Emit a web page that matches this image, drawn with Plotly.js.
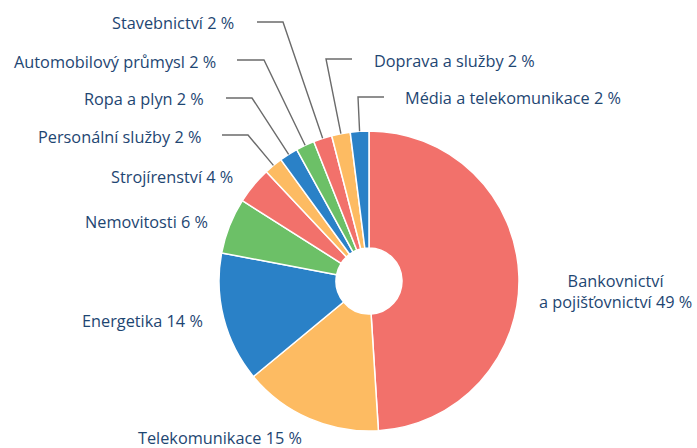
<!DOCTYPE html>
<html>
<head>
<meta charset="utf-8">
<script src="https://cdn.plot.ly/plotly-3.0.1.min.js"></script>
<style>html,body{margin:0;padding:0;background:#fff;}#chart{width:697px;height:448px;}</style>
</head>
<body>
<div id="chart"></div>
<script>
// ---- data ----
const categories = [
  'Bankovnictví a pojišťovnictví',
  'Telekomunikace',
  'Energetika',
  'Nemovitosti',
  'Strojírenství',
  'Personální služby',
  'Ropa a plyn',
  'Automobilový průmysl',
  'Stavebnictví',
  'Doprava a služby',
  'Média a telekomunikace'
];
const shares = [49, 15, 14, 6, 4, 2, 2, 2, 2, 2, 2];
const sliceColors = ['#F2716B','#FDBB62','#2A81C7','#6CC067','#F2716B','#FDBB62','#2A81C7','#6CC067','#F2716B','#FDBB62','#2A81C7'];

// ---- layout (pixel positions) ----
const W = 697, H = 448;
const CX = 369, CY = 281, R = 150;
// label placement per category: x, y, anchor, optional leader elbow [startX, elbowX, y]
const labelPos = [
  {x: 615, y: 291, anchor: 'center', br: true},
  {x: 136, y: 438, anchor: 'left'},
  {x: 205, y: 321, anchor: 'right'},
  {x: 210, y: 222, anchor: 'right'},
  {x: 235, y: 177, anchor: 'right'},
  {x: 203, y: 137, anchor: 'right', lead: [222, 248, 135]},
  {x: 206, y: 99, anchor: 'right', lead: [226, 252, 98]},
  {x: 218, y: 62, anchor: 'right', lead: [237, 264, 60]},
  {x: 236, y: 23, anchor: 'right', lead: [257, 283, 22]},
  {x: 372, y: 61, anchor: 'left', lead: [352, 326, 59]},
  {x: 403, y: 98, anchor: 'left', lead: [384, 358, 97]}
];

const px = v => v / W;
const py = v => 1 - v / H;

const total = shares.reduce((a, b) => a + b, 0);
const annotations = [];
const shapes = [];
let cum = 0;
shares.forEach((v, i) => {
  const f = (cum + v / 2) / total;
  cum += v;
  const th = 2 * Math.PI * f;
  const ex = CX + R * Math.sin(th);
  const ey = CY - R * Math.cos(th);
  const lp = labelPos[i];
  let name = categories[i];
  if (lp.br) name = name.replace(' ', '<br>');
  annotations.push({
    x: px(lp.x), y: py(lp.y), xref: 'paper', yref: 'paper',
    xanchor: lp.anchor, yanchor: 'middle', showarrow: false,
    text: name + ' ' + v + ' %', align: 'center',
    font: {family: 'Open Sans, sans-serif', size: 16.3, color: '#1E4672'}
  });
  if (lp.lead) {
    const [sx, kx, ly] = lp.lead;
    shapes.push({
      type: 'path', xref: 'paper', yref: 'paper',
      path: `M ${px(sx)} ${py(ly)} L ${px(kx)} ${py(ly)} L ${px(ex)} ${py(ey)}`,
      line: {color: '#6b6b6b', width: 1.4}
    });
  }
});

const trace = {
  type: 'pie',
  labels: categories,
  values: shares,
  sort: false,
  direction: 'clockwise',
  rotation: 0,
  hole: 0.22,
  textinfo: 'none',
  hoverinfo: 'label+value',
  marker: {colors: sliceColors, line: {color: '#ffffff', width: 1.5}},
  domain: {x: [px(CX - R), px(CX + R)], y: [py(CY + R), py(CY - R)]},
  showlegend: false
};

Plotly.newPlot('chart', [trace], {
  width: W, height: H,
  margin: {l: 0, r: 0, t: 0, b: 0},
  paper_bgcolor: '#ffffff',
  showlegend: false,
  annotations: annotations,
  shapes: shapes
}, {displayModeBar: false, staticPlot: true});
</script>
</body>
</html>
